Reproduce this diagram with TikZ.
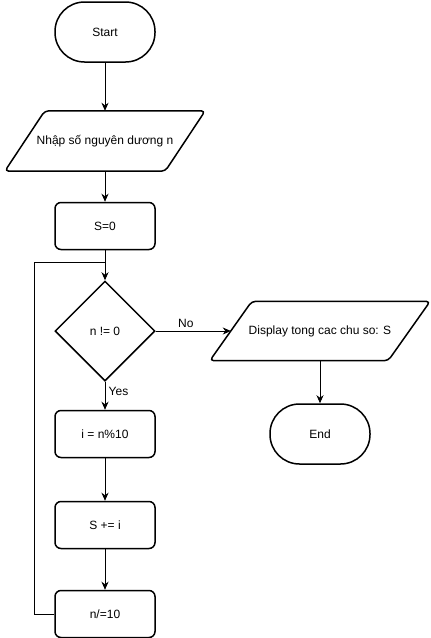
\documentclass[tikz,border=0pt]{standalone}
\usepackage{fontspec}
\setmainfont{Liberation Sans}
\usetikzlibrary{shapes.geometric,arrows.meta}
\tikzset{
	terminal/.style={draw, line width=1.5pt, rounded corners=29.5pt, minimum width=100pt, minimum height=60pt, inner sep=0pt},
	process/.style={draw, line width=1.5pt, rounded corners=6pt, minimum width=100pt, minimum height=47pt, inner sep=0pt},
	iobox/.style={line width=1.5pt, rounded corners=4pt, line join=round},
	decision/.style={draw, line width=1.5pt, diamond, minimum width=100pt, minimum height=100pt, inner sep=0pt},
	flow/.style={line width=0.8pt, -{Stealth[length=8pt,width=7pt,inset=2.5pt]}},
}
\begin{document}
\begin{tikzpicture}[x=1pt,y=-1pt,font=\fontsize{12}{14}\selectfont]
		\useasboundingbox (0,0) rectangle (431,638);

		\node[terminal] (start) at (105,32) {Start};
		\node[minimum width=160pt, minimum height=60pt, inner sep=0pt] (input) at (105,141) {Nhập số nguyên dương n};
		\node[process] (s0) at (105,226) {S=0};
		\coordinate (jn) at (105,262);
		\node[decision] (cond) at (105,331) {n != 0};
		\node[process] (mod) at (105,434) {i = n\%10};
		\node[process] (add) at (105,525) {S += i};
		\node[process] (div) at (105,614) {n/=10};

		\node[minimum width=178pt, minimum height=59pt, inner sep=0pt] (out) at (320,331) {Display tong cac chu so: S};
		\node[terminal] (end) at (320,434) {End};

		\draw[iobox] ([xshift=20pt]input.north west) -- ([xshift=20pt]input.north east)
			-- ([xshift=-20pt]input.south east) -- ([xshift=-20pt]input.south west) -- cycle;
		\draw[iobox] ([xshift=21pt]out.north west) -- ([xshift=21pt]out.north east)
			-- ([xshift=-21pt]out.south east) -- ([xshift=-21pt]out.south west) -- cycle;

		\draw[flow] (start) -- (input);
		\draw[flow] (input) -- (s0);
		\draw[flow] (s0) -- (cond);
		\draw[flow] (cond) -- node [right, pos=0.35] {Yes} (mod);
		\draw[flow] (mod) -- (add);
		\draw[flow] (add) -- (div);
		\draw[line width=0.8pt] (div.west) -- ++(-20,0) |- (jn);
		\draw[flow] (cond.east) -- node [above, pos=0.4] {No} (out.west);
		\draw[flow] (out) -- (end);
	\end{tikzpicture}
\end{document}
